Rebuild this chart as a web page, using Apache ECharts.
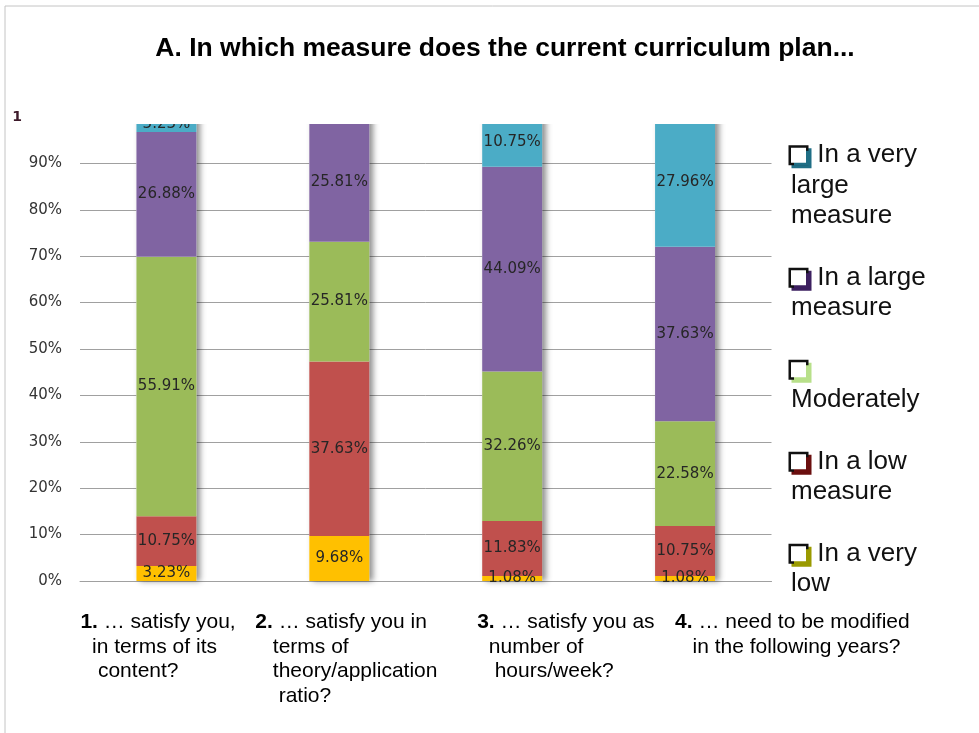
<!DOCTYPE html>
<html>
<head>
<meta charset="utf-8">
<script src="https://cdn.jsdelivr.net/npm/echarts@6/dist/echarts.min.js"></script>
<style>
  html, body { margin: 0; padding: 0; background: #fff; }
  #chart { width: 979px; height: 733px; }
</style>
</head>
<body>
<div id="chart"></div>
<script>
// Survey answers, percent of respondents per question
const categories = ['Q1', 'Q2', 'Q3', 'Q4'];
const veryLow    = [3.23, 9.68, 1.08, 1.08];
const low        = [10.75, 37.63, 11.83, 10.75];
const moderately = [55.91, 25.81, 32.26, 22.58];
const large      = [26.88, 25.81, 44.09, 37.63];
const veryLarge  = [3.23, 1.08, 10.75, 27.96];

const yTickLabels = ['0%', '10%', '20%', '30%', '40%', '50%', '60%', '70%', '80%', '90%', '1'];

// Question texts under each bar (number, then wrapped lines)
const questionNumbers = ['1.', '2.', '3.', '4.'];
const questionLines = [
  [' … satisfy you,', '  in terms of its', '   content?'],
  [' … satisfy you in', '   terms of', '   theory/application', '    ratio?'],
  [' … satisfy you as', '  number of', '   hours/week?'],
  [' … need to be modified', '   in the following years?']
];

const seriesNames = ['In a very low', 'In a low measure', 'Moderately', 'In a large measure', 'In a very large measure'];
const legendLabels = {
  'In a very large measure': 'In a very\nlarge\nmeasure',
  'In a large measure': 'In a large\nmeasure',
  'Moderately': '\nModerately',
  'In a low measure': 'In a low\nmeasure',
  'In a very low': 'In a very\nlow'
};

const SANS = "'Liberation Sans', Arial, sans-serif";
const colors = ['#FFC000', '#C0504D', '#9BBB59', '#8064A2', '#4BACC6'];
const iconShadow = ['#9a9a00', '#6b0f0f', '#b8e08a', '#3d2060', '#1f6e85'];
const seriesData = [veryLow, low, moderately, large, veryLarge];
const totals = categories.map((_, i) => seriesData.reduce((s, arr) => s + arr[i], 0));

const chart = echarts.init(document.getElementById('chart'), null, { renderer: 'canvas' });

const legendRich = { gap: { width: 4 } };
seriesNames.forEach((n, i) => {
  legendRich['b' + i] = {
    width: 15, height: 15,
    backgroundColor: '#fff',
    borderColor: '#111', borderWidth: 2.5,
    shadowColor: iconShadow[i], shadowOffsetX: 3, shadowOffsetY: 3, shadowBlur: 0,
    verticalAlign: 'middle'
  };
});

const barSeries = seriesNames.map((name, i) => ({
  name: name,
  type: 'bar',
  stack: 'total',
  barWidth: 60,
  z: 3,
  data: seriesData[i],
  itemStyle: { color: colors[i] },
  label: {
    show: true,
    position: 'inside',
    formatter: p => p.value.toFixed(2) + '%',
    fontFamily: 'DejaVu Sans',
    fontSize: 15,
    color: '#262626'
  }
}));

// soft drop shadow behind each full column
const shadowSeries = {
  name: 'backdrop',
  type: 'bar',
  barWidth: 60,
  barGap: '-100%',
  z: 2,
  silent: true,
  data: totals,
  itemStyle: {
    color: '#fff',
    shadowColor: 'rgba(0,0,0,0.45)',
    shadowBlur: 6,
    shadowOffsetX: 4,
    shadowOffsetY: 0
  },
  label: { show: false }
};

chart.setOption({
  animation: false,
  backgroundColor: '#fff',
  grid: { left: 80, right: 207.5, top: 117, bottom: 152 },
  legend: {
    orient: 'vertical',
    left: 781,
    top: 135,
    itemGap: 31,
    itemWidth: 0,
    itemHeight: 0,
    selectedMode: false,
    data: seriesNames.slice().reverse(),
    formatter: name => {
      const i = seriesNames.indexOf(name);
      const txt = legendLabels[name];
      return '{b' + i + '|}' + (txt.charAt(0) === '\n' ? txt : '{gap|} ' + txt);
    },
    textStyle: {
      fontFamily: SANS,
      fontSize: 26,
      lineHeight: 30.5,
      color: '#111',
      rich: legendRich
    }
  },
  xAxis: {
    type: 'category',
    data: categories,
    axisLine: { show: true, lineStyle: { color: '#a0a0a0', width: 1 } },
    axisTick: { show: false },
    axisLabel: { show: false }
  },
  yAxis: {
    type: 'value',
    min: 0,
    max: 100,
    interval: 10,
    axisLine: { show: false },
    axisTick: { show: false },
    splitLine: { show: true, showMaxLine: false, lineStyle: { color: '#a0a0a0', width: 1 } },
    axisLabel: {
      margin: 18,
      fontFamily: 'DejaVu Sans',
      fontSize: 15,
      color: '#333',
      formatter: v => {
        const lbl = yTickLabels[Math.round(v / 10)];
        return v === 100 ? '{one|' + lbl + '}' : lbl;
      },
      rich: {
        one: { fontFamily: 'DejaVu Sans', fontSize: 14, fontWeight: 'bold', color: '#3d1a2a', padding: [0, 40, 0, 0] }
      }
    }
  },
  series: [shadowSeries].concat(barSeries)
});

// Decorations positioned from the axes
const yTop = chart.convertToPixel({ yAxisIndex: 0 }, 100);
const yCut = chart.convertToPixel({ yAxisIndex: 0 }, 98.5);
const labelOffsets = [-86, -84, -35, -10];
const graphics = [
  {
    type: 'rect',
    z: 100,
    shape: { x: 100, y: yTop - 14, width: 660, height: yCut - yTop + 14 },
    style: { fill: '#fff' }
  },
  {
    type: 'rect',
    z: 100,
    shape: { x: 5, y: 6, width: 1200, height: 1200 },
    style: { fill: 'none', stroke: '#c4c4c4', lineWidth: 1 }
  },
  {
    type: 'text',
    z: 100,
    x: 505,
    y: 49,
    style: {
      text: 'A. In which measure does the current curriculum plan...',
      fontFamily: SANS,
      fontSize: 26.5,
      fontWeight: 'bold',
      fill: '#000',
      align: 'center',
      verticalAlign: 'middle'
    }
  }
];
categories.forEach((c, i) => {
  const cx = chart.convertToPixel({ xAxisIndex: 0 }, c);
  graphics.push({
    type: 'text',
    z: 100,
    x: cx + labelOffsets[i],
    y: 610,
    style: {
      text: '{n|' + questionNumbers[i] + '}' + questionLines[i].join('\n'),
      fontFamily: SANS,
      fontSize: 21,
      lineHeight: 24.5,
      fill: '#000',
      align: 'left',
      verticalAlign: 'top',
      rich: {
        n: { fontFamily: SANS, fontSize: 21, lineHeight: 24.5, fontWeight: 'bold', fill: '#000' }
      }
    }
  });
});
chart.setOption({ graphic: graphics });
</script>
</body>
</html>
